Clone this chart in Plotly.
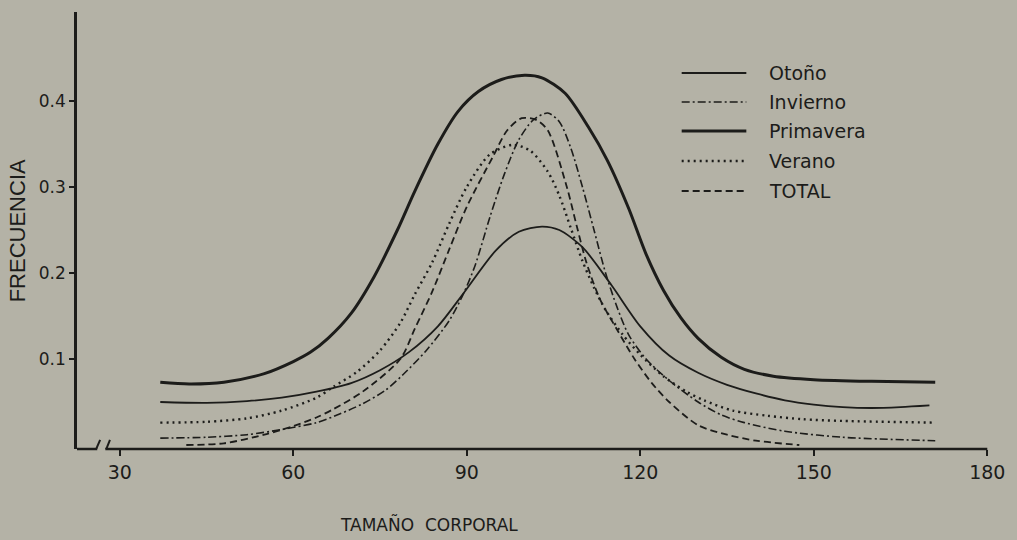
import plotly.graph_objects as go

# ---- data ----
otono_x = [37, 45, 52, 58, 64, 70, 75, 80, 85, 89.5, 95, 99, 103, 106, 110, 115, 120, 125, 130, 135, 140, 145, 150, 155, 160, 165, 170]
otono_y = [0.050, 0.049, 0.051, 0.055, 0.062, 0.072, 0.087, 0.108, 0.138, 0.177, 0.226, 0.248, 0.254, 0.250, 0.230, 0.186, 0.138, 0.104, 0.084, 0.070, 0.060, 0.052, 0.047, 0.044, 0.043, 0.044, 0.046]

invierno_x = [37, 45, 52, 58, 64, 68, 72, 76, 79, 83, 87, 89.5, 91.5, 94, 96.5, 99, 101.5, 104, 106, 108, 110, 112, 114, 116, 118, 121, 125, 130, 134, 138, 145, 155, 171]
invierno_y = [0.008, 0.009, 0.012, 0.018, 0.026, 0.036, 0.048, 0.064, 0.082, 0.110, 0.145, 0.177, 0.210, 0.265, 0.315, 0.355, 0.378, 0.386, 0.376, 0.345, 0.300, 0.250, 0.200, 0.160, 0.128, 0.100, 0.075, 0.050, 0.035, 0.026, 0.016, 0.009, 0.005]

primavera_x = [37, 42, 48, 55, 60, 63, 66, 70, 74, 78, 81, 85, 88.5, 92, 96, 100, 103, 107, 111, 114.3, 118, 121, 124, 127, 130, 134, 138, 143, 150, 160, 171]
primavera_y = [0.073, 0.071, 0.073, 0.083, 0.097, 0.108, 0.124, 0.153, 0.196, 0.250, 0.295, 0.350, 0.388, 0.411, 0.425, 0.430, 0.427, 0.409, 0.370, 0.331, 0.275, 0.222, 0.180, 0.148, 0.124, 0.102, 0.088, 0.080, 0.076, 0.074, 0.073]

verano_x = [37, 45, 52, 58, 64, 67, 71, 75, 78.5, 81, 84, 87, 90, 94, 98, 101, 104, 106, 108, 110, 112, 114, 117, 120, 124, 128, 131, 136, 142, 148, 155, 171]
verano_y = [0.026, 0.027, 0.031, 0.040, 0.055, 0.068, 0.085, 0.110, 0.142, 0.175, 0.212, 0.258, 0.300, 0.338, 0.349, 0.342, 0.318, 0.290, 0.252, 0.214, 0.183, 0.157, 0.128, 0.105, 0.080, 0.062, 0.052, 0.040, 0.034, 0.030, 0.028, 0.026]

total_x = [41.5, 48, 55, 60, 64, 67, 72, 78.5, 81, 84, 87, 90, 94.5, 97, 99.5, 102, 104, 107.3, 109, 110.7, 113, 116, 119, 122, 125, 130, 135, 140, 147.5]
total_y = [0.000, 0.002, 0.012, 0.022, 0.032, 0.042, 0.062, 0.100, 0.135, 0.178, 0.228, 0.277, 0.335, 0.366, 0.380, 0.378, 0.366, 0.300, 0.255, 0.212, 0.170, 0.134, 0.100, 0.072, 0.050, 0.023, 0.012, 0.005, 0.000]

x_ticks = [30, 60, 90, 120, 150, 180]
y_ticks = [0.1, 0.2, 0.3, 0.4]
y_tick_text = ["0.1", "0.2", "0.3", "0.4"]

ink = "#1c1c1a"
bg = "rgb(180,178,166)"

series = [
    ("Otoño", otono_x, otono_y, "solid", 1.8),
    ("Invierno", invierno_x, invierno_y, "8px,3px,2px,3px", 1.6),
    ("Primavera", primavera_x, primavera_y, "solid", 3.0),
    ("Verano", verano_x, verano_y, "2px,4px", 2.4),
    ("TOTAL", total_x, total_y, "7px,4px", 1.8),
]

fig = go.Figure()
for name, xs, ys, dash, w in series:
    fig.add_trace(go.Scatter(x=xs, y=ys, mode="lines", name=name,
                             line=dict(color=ink, width=w, dash=dash, shape="spline", smoothing=0.8),
                             showlegend=False, hoverinfo="skip"))

XMIN, XMAX = 22.6, 180.3
YMIN, YMAX = -0.00465, 0.5035

shapes = []
# x axis with break
shapes.append(dict(type="line", xref="x", yref="paper", x0=XMIN, x1=26.1, y0=0, y1=0, line=dict(color=ink, width=2.5)))
shapes.append(dict(type="line", xref="x", yref="paper", x0=27.5, x1=180, y0=0, y1=0, line=dict(color=ink, width=2.5)))
# break marks
shapes.append(dict(type="line", xref="x", yref="y", x0=25.2, x1=26.6, y0=-0.016, y1=0.006, line=dict(color=ink, width=2)))
shapes.append(dict(type="line", xref="x", yref="y", x0=27.0, x1=28.3, y0=-0.016, y1=0.006, line=dict(color=ink, width=2)))

# custom legend (paper coords)
W = 1017 - 77 - 23
H = 540 - 12 - 91
def px2paper_x(px):
    return (px - 77) / W
def px2paper_y(py):
    return (540 - 91 - py) / H

leg_rows = [73, 102, 131, 161, 191]
annotations = []
for (name, xs, ys, dash, w), ry in zip(series, leg_rows):
    shapes.append(dict(type="line", xref="paper", yref="paper",
                       x0=px2paper_x(685), x1=px2paper_x(750),
                       y0=px2paper_y(ry), y1=px2paper_y(ry),
                       line=dict(color=ink, width=w, dash=dash)))
    annotations.append(dict(text=name, xref="paper", yref="paper",
                            x=px2paper_x(771), y=px2paper_y(ry),
                            xanchor="left", yanchor="middle", showarrow=False,
                            font=dict(family="DejaVu Sans", size=19, color=ink)))

annotations.append(dict(text="FRECUENCIA", xref="paper", yref="paper",
                        x=px2paper_x(17), y=px2paper_y(231), textangle=-90,
                        xanchor="center", yanchor="middle", showarrow=False,
                        font=dict(family="Liberation Sans Narrow, Liberation Sans", size=22, color=ink)))
annotations.append(dict(text="TAMAÑO  CORPORAL", xref="paper", yref="paper",
                        x=px2paper_x(431), y=px2paper_y(524),
                        xanchor="center", yanchor="middle", showarrow=False,
                        font=dict(family="DejaVu Sans", size=17, color=ink)))

fig.update_layout(
    width=1017, height=540,
    margin=dict(l=77, r=23, t=12, b=91),
    paper_bgcolor=bg, plot_bgcolor=bg,
    shapes=shapes, annotations=annotations,
    showlegend=False,
    xaxis=dict(range=[XMIN, XMAX], tickvals=x_ticks, ticktext=[str(v) for v in x_ticks],
               showgrid=False, zeroline=False, showline=False,
               ticks="outside", ticklen=6, tickwidth=1.5, tickcolor=ink,
               tickfont=dict(family="DejaVu Sans", size=19, color=ink)),
    yaxis=dict(range=[YMIN, YMAX], tickvals=y_ticks, ticktext=y_tick_text,
               showgrid=False, zeroline=False, showline=True, linecolor=ink, linewidth=2.5,
               ticks="outside", ticklen=5, tickwidth=2, tickcolor=ink,
               tickfont=dict(family="DejaVu Sans", size=17, color=ink)),
)

fig.write_html("out.html", config={"displayModeBar": False},
               post_script="document.body.style.margin='0px';document.body.style.background='" + bg + "';")
